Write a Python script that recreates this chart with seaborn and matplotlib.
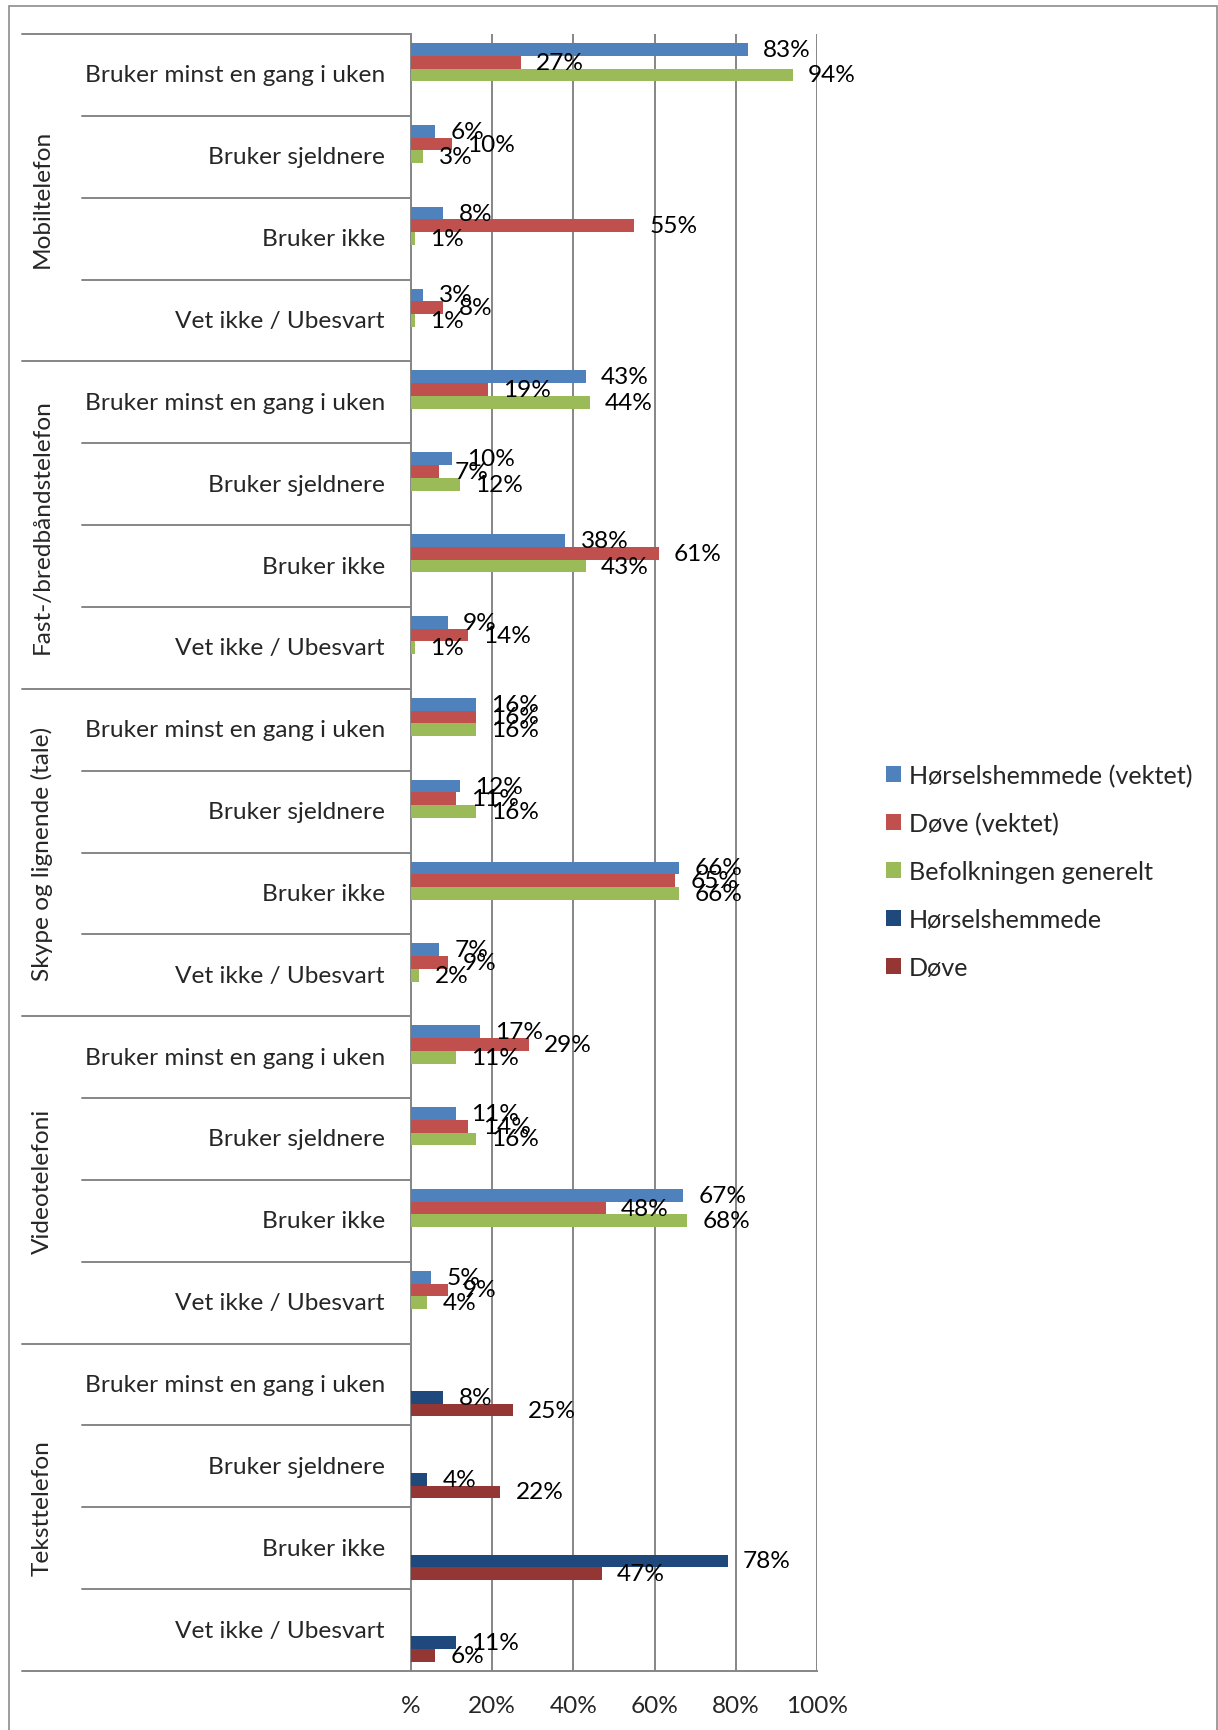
import matplotlib
matplotlib.use("Agg")
import numpy as np
import pandas as pd
import matplotlib.pyplot as plt
import matplotlib.transforms as mtransforms
from matplotlib.patches import Patch, Rectangle
from matplotlib.lines import Line2D
import seaborn as sns

# ---- data -------------------------------------------------------------
groups = ["Mobiltelefon", "Fast-/bredbåndstelefon", "Skype og lignende (tale)",
          "Videotelefoni", "Teksttelefon"]
answers = ["Bruker minst en gang i uken", "Bruker sjeldnere", "Bruker ikke",
           "Vet ikke / Ubesvart"]
series = ["Hørselshemmede (vektet)", "Døve (vektet)", "Befolkningen generelt",
          "Hørselshemmede", "Døve"]
colors = ["#4F81BD", "#C0504D", "#9BBB59", "#1F497D", "#943634"]

# first four groups: weighted hearing impaired, weighted deaf, general population
hoerselshemmede_vektet = [83, 6, 8, 3, 43, 10, 38, 9, 16, 12, 66, 7, 17, 11, 67, 5]
doeve_vektet = [27, 10, 55, 8, 19, 7, 61, 14, 16, 11, 65, 9, 29, 14, 48, 9]
befolkningen_generelt = [94, 3, 1, 1, 44, 12, 43, 1, 16, 16, 66, 2, 11, 16, 68, 4]
# text telephone: unweighted hearing impaired and deaf
hoerselshemmede_tt = [8, 4, 78, 11]
doeve_tt = [25, 22, 47, 6]

xticks = [0, 20, 40, 60, 80, 100]
xticklabels = ["%", "20%", "40%", "60%", "80%", "100%"]

# ---- long table -------------------------------------------------------
row_keys = [f"{g}|{a}" for g in groups for a in answers]
records = []
for i, key in enumerate(row_keys[:16]):
    records.append((key, series[0], hoerselshemmede_vektet[i]))
    records.append((key, series[1], doeve_vektet[i]))
    records.append((key, series[2], befolkningen_generelt[i]))
for i, key in enumerate(row_keys[16:]):
    records.append((key, series[3], hoerselshemmede_tt[i]))
    records.append((key, series[4], doeve_tt[i]))
df = pd.DataFrame(records, columns=["rad", "serie", "prosent"])

# ---- style ------------------------------------------------------------
sns.set_style("white")
plt.rcParams["font.family"] = ["Lato", "DejaVu Sans"]
FS = 17.6
GRID = "#868686"
LW = 1.4

W, H = 1218, 1731
fig = plt.figure(figsize=(W / 100, H / 100), dpi=100)
ax_l, ax_r, ax_t, ax_b = 411, 817, 35, 1672
ax = fig.add_axes([ax_l / W, 1 - ax_b / H, (ax_r - ax_l) / W, (ax_b - ax_t) / H])

sns.barplot(data=df, x="prosent", y="rad", hue="serie", hue_order=series,
            order=row_keys, palette=colors, orient="h", width=0.78,
            saturation=1, errorbar=None, legend=False, ax=ax, zorder=3,
            linewidth=0, edgecolor="none")

for cont in ax.containers:
    ax.bar_label(cont, fmt="{:.0f}%", padding=11, fontsize=FS, color="black")

ax.set_xlim(0, 100)
ax.set_ylim(len(row_keys) - 0.5, -0.5)
ax.set_xticks(xticks)
ax.set_xticklabels(xticklabels, fontsize=FS)
ax.set_yticks([])
ax.set_xlabel("")
ax.set_ylabel("")
ax.grid(axis="x", color=GRID, lw=LW, zorder=0)
ax.set_axisbelow(True)
for s in ["top", "right"]:
    ax.spines[s].set_visible(False)
for s in ["left", "bottom"]:
    ax.spines[s].set_color(GRID)
    ax.spines[s].set_linewidth(LW)
ax.tick_params(axis="x", direction="out", length=5.8, width=LW, color=GRID,
               pad=11.5, labelsize=FS)

# ---- multi-level category axis on the left ---------------------------
def fx(px):
    return (px - ax_l) / (ax_r - ax_l)

trans = mtransforms.blended_transform_factory(ax.transAxes, ax.transData)
for k in range(len(row_keys) + 1):
    x0 = 22 if k % 4 == 0 else 82
    ax.add_line(Line2D([fx(x0), 0], [k - 0.5, k - 0.5], transform=trans,
                       color=GRID, lw=LW, clip_on=False))
for i, key in enumerate(row_keys):
    ax.text(fx(385), i, key.split("|")[1], transform=trans, ha="right",
            va="center", fontsize=FS)
for g, name in enumerate(groups):
    ax.text(fx(42), 4 * g + 1.5, name, transform=trans, rotation=90,
            ha="center", va="center", fontsize=FS)

# ---- legend -----------------------------------------------------------
handles = [Patch(facecolor=c, edgecolor="none", label=s) for s, c in zip(series, colors)]
fig.legend(handles=handles, loc="upper left", bbox_to_anchor=(886 / W, 1 - 765 / H),
           frameon=False, fontsize=18.2, handlelength=0.6, handleheight=0.6,
           handletextpad=0.3, labelspacing=0.98, borderpad=0, borderaxespad=0)

# chart frame
fig.add_artist(Rectangle((9 / W, -0.01), (1217 - 9) / W, 1 - 7 / H + 0.01,
                         transform=fig.transFigure, fill=False,
                         edgecolor="#8c8c8c", lw=1.2))

fig.savefig("out.png", dpi=100)
